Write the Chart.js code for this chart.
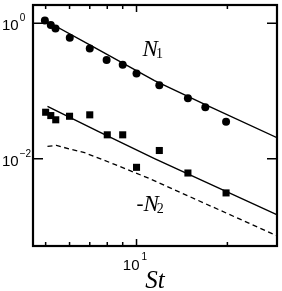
<!DOCTYPE html>
<html lang="en">
<head>
<meta charset="UTF-8">
<title>N1 and N2 versus St</title>
<script src="https://cdn.jsdelivr.net/npm/chart.js"></script>
<style>
    body {
        margin: 0;
        background-color: #fff;
    }
    .chart-container {
        width: 282px;
        height: 291px;
    }
</style>
</head>
<body>
<div class="chart-container">
    <canvas id="stChart"></canvas>
</div>
<script>
    const stCircles = [4.97, 5.2, 5.39, 6.01, 7.0, 7.96, 9.0, 10.0, 11.9, 14.8, 16.9, 19.8];
    const n1Values = [1.10, 0.94, 0.84, 0.61, 0.423, 0.286, 0.243, 0.181, 0.121, 0.078, 0.0576, 0.035];
    const stSquares = [5.0, 5.2, 5.4, 6.0, 7.0, 8.0, 9.0, 10.0, 11.9, 14.8, 19.8];
    const n2Values = [0.0485, 0.0433, 0.0375, 0.0423, 0.0444, 0.0225, 0.0225, 0.00745, 0.0132, 0.00614, 0.00312];

    // solid fit lines and dashed model curve
    const stFit1 = [4.97, 7.0, 11.47, 16.9, 29.2];
    const n1Fit = [1.107, 0.480, 0.1417, 0.0629, 0.0204];
    const stFit2 = [5.07, 7.55, 11.47, 29.3];
    const n2Fit = [0.0594, 0.0246, 0.0100, 0.00147];
    const stModel = [5.07, 5.43, 6.0, 6.73, 8.46, 11.04, 29.3];
    const n2Model = [0.0152, 0.0157, 0.0139, 0.01225, 0.00824, 0.00508, 0.00072];

    // ticks: value -> [mantissa, exponent]
    const xTicks = [5, 6, 7, 8, 9, 10, 20];
    const yTicks = [1, 0.01];
    const xTickLabels = { 10: ['10', '1'] };
    const yTickLabels = { 1: ['10', '0'], 0.01: ['10', '\u22122'] };

    const toPoints = (xs, ys) => xs.map((v, i) => ({ x: v, y: ys[i] }));

    // box frame, inward tick marks, power-of-ten labels and curve labels
    const frameAndTicks = {
        id: 'frameAndTicks',
        afterDraw(chart) {
            const { ctx, chartArea: a, scales: { x, y } } = chart;
            ctx.save();
            ctx.strokeStyle = '#000';
            ctx.lineWidth = 1.5;
            ctx.beginPath();
            xTicks.forEach(v => {
                const px = x.getPixelForValue(v);
                const len = v === 10 ? 7 : 4;
                ctx.moveTo(px, a.bottom); ctx.lineTo(px, a.bottom - len);
                ctx.moveTo(px, a.top); ctx.lineTo(px, a.top + len);
            });
            yTicks.forEach(v => {
                const py = y.getPixelForValue(v);
                ctx.moveTo(a.left, py); ctx.lineTo(a.left + 10, py);
                ctx.moveTo(a.right, py); ctx.lineTo(a.right - 10, py);
            });
            ctx.stroke();
            ctx.lineWidth = 2.2;
            ctx.strokeRect(a.left, a.top, a.right - a.left, a.bottom - a.top);

            ctx.fillStyle = '#000';
            ctx.textBaseline = 'alphabetic';
            const base = '15px "Liberation Sans", Arial, sans-serif';
            const sup = '10px "Liberation Sans", Arial, sans-serif';

            // y tick labels, left aligned
            yTicks.forEach(v => {
                const [m, e] = yTickLabels[v];
                const py = y.getPixelForValue(v);
                ctx.font = base;
                ctx.fillText(m, 2, py + 7);
                const w = ctx.measureText(m).width;
                ctx.font = sup;
                ctx.fillText(e, 2 + w + 1, py - 2);
            });
            // x tick labels
            xTicks.filter(v => xTickLabels[v]).forEach(v => {
                const [m, e] = xTickLabels[v];
                const px = x.getPixelForValue(v);
                ctx.font = base;
                const w = ctx.measureText(m).width;
                ctx.fillText(m, px + 3 - w, a.bottom + 24);
                ctx.font = sup;
                ctx.fillText(e, px + 5, a.bottom + 14);
            });

            // N1 label
            let px = x.getPixelForValue(10.47), py = y.getPixelForValue(0.33);
            ctx.font = 'italic 23px "Liberation Serif"';
            ctx.fillText('N', px, py);
            let w = ctx.measureText('N').width;
            ctx.font = '14px "Liberation Serif"';
            ctx.fillText('1', px + w - 2, py + 2);
            // -N2 label
            px = x.getPixelForValue(10.0); py = y.getPixelForValue(0.00168);
            ctx.font = '21px "Liberation Serif"';
            ctx.fillText('-', px, py - 1);
            const m = ctx.measureText('-').width;
            ctx.font = 'italic 23px "Liberation Serif"';
            ctx.fillText('N', px + m, py);
            w = ctx.measureText('N').width;
            ctx.font = '14px "Liberation Serif"';
            ctx.fillText('2', px + m + w - 2, py + 2);
            ctx.restore();
        }
    };

    const ctx = document.getElementById('stChart').getContext('2d');
    new Chart(ctx, {
        type: 'scatter',
        data: {
            datasets: [
                {
                    label: 'N2 model',
                    data: toPoints(stModel, n2Model),
                    showLine: true,
                    borderColor: '#000',
                    borderWidth: 1.3,
                    borderDash: [5, 3.5],
                    pointRadius: 0
                },
                {
                    label: 'N2 fit',
                    data: toPoints(stFit2, n2Fit),
                    showLine: true,
                    borderColor: '#000',
                    borderWidth: 1.4,
                    pointRadius: 0
                },
                {
                    label: 'N1 fit',
                    data: toPoints(stFit1, n1Fit),
                    showLine: true,
                    borderColor: '#000',
                    borderWidth: 1.4,
                    pointRadius: 0
                },
                {
                    label: '-N2',
                    data: toPoints(stSquares, n2Values),
                    pointStyle: 'rect',
                    pointRadius: 5,
                    backgroundColor: '#000',
                    borderColor: '#000',
                    borderWidth: 0
                },
                {
                    label: 'N1',
                    data: toPoints(stCircles, n1Values),
                    pointStyle: 'circle',
                    pointRadius: 4,
                    backgroundColor: '#000',
                    borderColor: '#000',
                    borderWidth: 0
                }
            ]
        },
        options: {
            responsive: true,
            maintainAspectRatio: false,
            animation: false,
            layout: {
                padding: { top: 4, right: 4, left: 0, bottom: 0 }
            },
            plugins: {
                legend: { display: false },
                tooltip: { enabled: false }
            },
            scales: {
                x: {
                    type: 'logarithmic',
                    min: 4.54,
                    max: 29.2,
                    grid: { display: false },
                    border: { display: false },
                    afterBuildTicks: scale => {
                        scale.ticks = xTicks.map(v => ({ value: v }));
                    },
                    afterFit: scale => { scale.height = 45; },
                    ticks: { display: false },
                    title: {
                        display: true,
                        text: 'St',
                        color: '#000',
                        padding: { top: 0, bottom: -3 },
                        font: { family: '"Liberation Serif", serif', size: 25, style: 'italic', lineHeight: 1 }
                    }
                },
                y: {
                    type: 'logarithmic',
                    min: 0.000513,
                    max: 1.86,
                    grid: { display: false },
                    border: { display: false },
                    afterBuildTicks: scale => {
                        scale.ticks = yTicks.map(v => ({ value: v }));
                    },
                    afterFit: scale => { scale.width = 33; },
                    ticks: { display: false }
                }
            }
        },
        plugins: [frameAndTicks]
    });
</script>
</body>
</html>
